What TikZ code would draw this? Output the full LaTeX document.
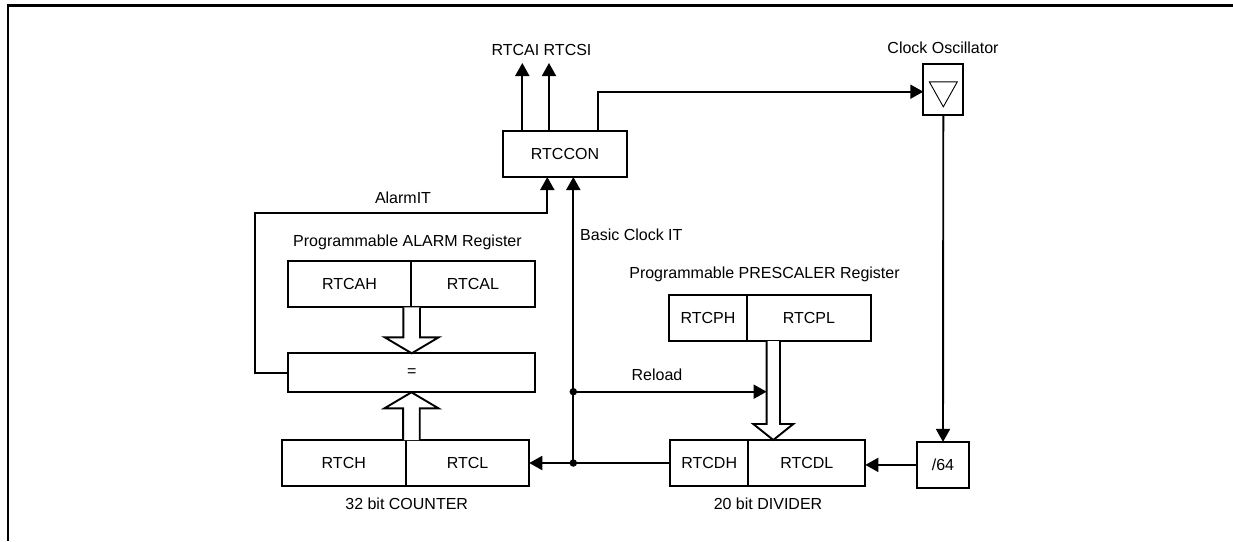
\documentclass[tikz,border=0pt]{standalone}
\usepackage{fontspec}
\setmainfont{Liberation Sans}
\usetikzlibrary{positioning,calc,arrows.meta}

% hollow bus arrow: start, tip, shaft half width, head half width
\newcommand{\busarrow}[4]{%
  \coordinate (bh) at ($(#2)!16pt!(#1)$);
  \draw[bus] ($(#1)!#3!90:(#2)$) -- ($(bh)!#3!-90:(#1)$) -- ($(bh)!#4!-90:(#1)$)
    -- (#2) -- ($(bh)!#4!90:(#1)$) -- ($(bh)!#3!90:(#1)$) -- ($(#1)!#3!-90:(#2)$);
}

\begin{document}
\begin{tikzpicture}[x=1pt, y=-1pt, font=\fontsize{16}{19}\selectfont,
  reg/.style={draw, rectangle, line width=1.9pt, inner sep=0pt, outer sep=0pt, minimum height=46pt},
  lbl/.style={inner sep=0pt, anchor=base},
  arr/.style={line width=1.9pt, -{Triangle[length=13pt,width=14pt]}},
  bus/.style={line width=1.9pt, fill=white},
  dot/.style={circle, fill, inner sep=0pt, minimum size=7.5pt}]
  \useasboundingbox (0,0) rectangle (1233,541);
  \draw[line width=2.8pt] (8,541) |- (1233,5.5);

  % Nodes
  \node[reg, minimum width=124pt] (rtccon) at (565,154) {RTCCON};
  \node[reg, minimum width=40pt, minimum height=51pt] (osc) at (943.3,89.8) {};
  \node[reg, minimum width=52.6pt] (div64) at (943,464.9) {/64};
  \node[reg, minimum width=78.3pt] (rtcdh) at (709.2,463) {RTCDH};
  \node[reg, minimum width=117pt, right=0pt of rtcdh] (rtcdl) {RTCDL};
  \node[reg, minimum width=77.4pt] (rtcph) at (708,318) {RTCPH};
  \node[reg, minimum width=124.3pt, right=0pt of rtcph] (rtcpl) {RTCPL};
  \node[reg, minimum width=124.3pt] (rtch) at (343.8,463) {RTCH};
  \node[reg, minimum width=123.3pt, right=0pt of rtch] (rtcl) {RTCL};
  \node[reg, minimum width=122.4pt, minimum height=46.6pt] (rtcah) at (349.5,284) {RTCAH};
  \node[reg, minimum width=124.3pt, minimum height=46.6pt, right=0pt of rtcah] (rtcal) {RTCAL};
  \node[reg, minimum width=246.7pt, minimum height=39pt] (eq) at (411.7,372.8) {=};

  % Labels
  \node[lbl] (irqlbl) at (541.5,55) {RTCAI RTCSI};
  \node[lbl] (osclbl) at (943,53) {Clock Oscillator};
  \node[lbl] (almlbl) at (403,203) {AlarmIT};
  \node[lbl] (alarmreg) at (407.5,246) {Programmable ALARM Register};
  \node[lbl, anchor=base west] (clklbl) at (580,240) {Basic Clock IT};
  \node[lbl] (prereg) at (764.5,278) {Programmable PRESCALER Register};
  \node[lbl] (rellbl) at (657,380) {Reload};
  \node[lbl] (cntlbl) at (406.7,509) {32 bit COUNTER};
  \node[lbl] (divlbl) at (768,509) {20 bit DIVIDER};

  % oscillator symbol
  \draw[line width=0.9pt] ($(osc.center)+(-14,-8)$) -- ($(osc.center)+(14,-8)$) -- ($(osc.center)+(0,17)$) -- cycle;

  % Coordinates
  \coordinate (rtcai) at (522.3,63);
  \coordinate (rtcsi) at (549,63);
  \coordinate (clkup) at (597.7,91.7);
  \coordinate (almturn) at (255,213.3);
  \coordinate (almin) at (547.3,177);
  \coordinate (jrel) at (573.3,391.7);
  \coordinate (jlow) at (573.3,463);
  \coordinate (almbus) at ($(rtcah.south east)+(1,0)$);
  \coordinate (almtip) at (almbus |- eq.north);
  \coordinate (cntbus) at ($(rtcl.north west)+(5.5,0)$);
  \coordinate (cnttip) at (cntbus |- eq.south);
  \coordinate (prebus) at ($(rtcpl.south west)+(26.6,0)$);
  \coordinate (pretip) at (prebus |- rtcdl.north);

  % Edges
  \draw[arr] (rtccon.north -| rtcai) -- (rtcai);
  \draw[arr] (rtccon.north -| rtcsi) -- (rtcsi);
  \draw[arr] (rtccon.north -| clkup) -- (clkup) -- (clkup -| osc.west);
  \draw[arr] (osc.south) -- (div64.north);
  \draw[arr] (div64.west) -- (div64.west -| rtcdl.east);
  \draw[arr] (rtcdh.west) -- (rtcl.east);
  \draw[arr] (jlow) -- (jlow |- rtccon.south);
  \draw[arr] (jrel) -- ($(prebus |- jrel)+(-6.7,0)$);
  \draw[arr] (eq.west) -| (almturn) -| (almin);
  \node[dot] (reldot) at (jrel) {};
  \node[dot] (lowdot) at (jlow) {};

  % Buses
  \busarrow{almbus}{almtip}{8.3pt}{27pt}
  \busarrow{cntbus}{cnttip}{8.3pt}{27pt}
  \busarrow{prebus}{pretip}{6.7pt}{20pt}
\end{tikzpicture}
\end{document}
